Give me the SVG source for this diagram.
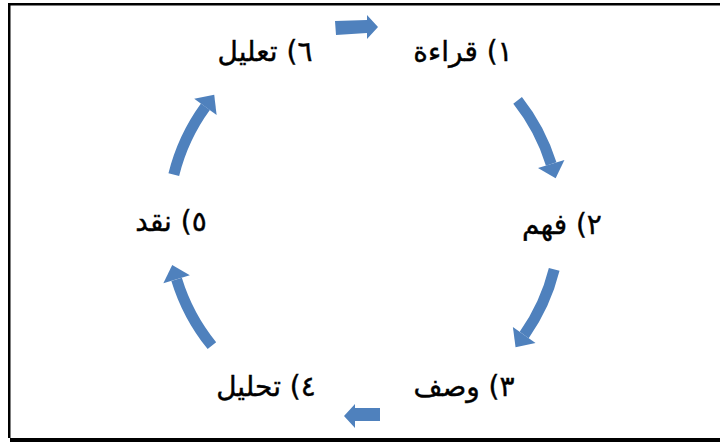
<svg xmlns="http://www.w3.org/2000/svg" width="720" height="443" viewBox="0 0 720 443">
<style>
.lbl{font-family:"DejaVu Sans","Noto Sans",sans-serif;font-size:28px;fill:#000;stroke:#000;stroke-width:0.4;text-anchor:middle;direction:rtl;unicode-bidi:embed}
.arc{fill:none;stroke:#4F81BD;stroke-width:11;marker-end:url(#head)}
.blk{fill:#4F81BD}
</style>
<defs>
<marker id="head" markerUnits="userSpaceOnUse" orient="auto" refX="0" refY="0" markerWidth="30" markerHeight="30" viewBox="0 -13 14 26" overflow="visible">
<path d="M0,-12 L13,0 L0,12 Z" fill="#4F81BD"/>
</marker>
</defs>
<rect width="720" height="443" fill="#fff"/>
<g id="frame">
<rect x="8" y="3" width="712" height="2.5" fill="#000"/>
<rect x="8" y="3" width="2.5" height="435" fill="#000"/>
<rect x="10" y="438" width="710" height="4" fill="#000"/>
</g>
<g id="connectors">
<path class="arc" d="M517.6,100.3 A196,196 0 0 1 551.2,164.0"/>
<path class="arc" d="M554.2,269.4 A196,196 0 0 1 524.2,335.0"/>
<path class="arc" d="M211.9,345.6 A196,196 0 0 1 176.6,279.3"/>
<path class="arc" d="M173.8,174.6 A196,196 0 0 1 205.4,106.8"/>
<path class="blk" d="M335,21 L367,20 L367,15 L378,27 L367,39 L367,33 L336,35 Z"/>
<path class="blk" d="M380,408 L355,408 L355,404 L344,416 L355,428 L355,421 L380,421 Z"/>
</g>
<g id="n1"><text class="lbl" x="463" y="61">١) قراءة</text></g>
<g id="n2"><text class="lbl" x="562" y="234">٢) فهم</text></g>
<g id="n3"><text class="lbl" x="464" y="396">٣) وصف</text></g>
<g id="n4"><text class="lbl" x="266" y="396">٤) تحليل</text></g>
<g id="n5"><text class="lbl" x="171" y="231">٥) نقد</text></g>
<g id="n6"><text class="lbl" x="265" y="61">٦) تعليل</text></g>
</svg>
